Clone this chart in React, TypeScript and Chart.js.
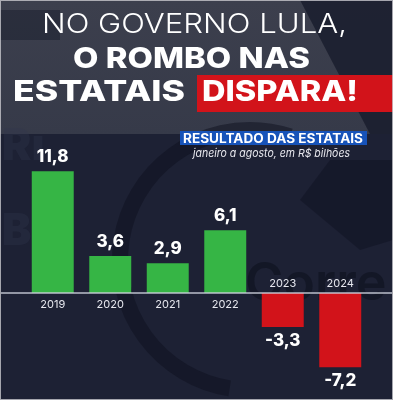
import React, { useEffect, useRef } from "react";
import { Chart, registerables } from "chart.js";

Chart.register(...registerables);

const years = ["2019", "2020", "2021", "2022", "2023", "2024"];
const values = [11.8, 3.6, 2.9, 6.1, -3.3, -7.2];
const valueLabels = ["11,8", "3,6", "2,9", "6,1", "-3,3", "-7,2"];
const titleLine1 = "NO GOVERNO LULA,";
const titleLine2 = "O ROMBO NAS";
const titleLine3a = "ESTATAIS";
const titleLine3b = "DISPARA!";
const subtitle = "RESULTADO DAS ESTATAIS";
const subtitle2 = "janeiro a agosto, em R$ bilhões";

const GREEN = "#36b545";
const RED = "#d2131a";
const FONT = "Inter, 'Open Sans', 'DejaVu Sans', sans-serif";

function fitText(ctx: CanvasRenderingContext2D, text: string, x: number, y: number, width: number) {
  const w = ctx.measureText(text).width;
  ctx.save();
  ctx.translate(x, y);
  ctx.scale(width / w, 1);
  ctx.fillText(text, 0, 0);
  ctx.restore();
}

const decorPlugin = {
  id: "decor",
  beforeDraw(chart: any) {
    const ctx: CanvasRenderingContext2D = chart.ctx;
    const W = chart.width;
    const H = chart.height;
    ctx.save();
    ctx.fillStyle = "#1d2134";
    ctx.fillRect(0, 0, W, H);
    const g = ctx.createLinearGradient(0, 0, 0, 135);
    g.addColorStop(0, "#3c3f4d");
    g.addColorStop(1, "#363a49");
    ctx.fillStyle = g;
    ctx.fillRect(0, 0, W, 134);
    ctx.fillStyle = "rgba(22,26,42,0.75)";
    ctx.beginPath();
    ctx.moveTo(300, 0);
    ctx.lineTo(393, 0);
    ctx.lineTo(393, 134);
    ctx.lineTo(370, 134);
    ctx.closePath();
    ctx.fill();
    ctx.fillStyle = "rgba(22,26,42,0.45)";
    ctx.fillRect(0, 10, 60, 30);
    // faint watermark shapes
    ctx.strokeStyle = "rgba(14,16,30,0.5)";
    ctx.lineWidth = 16;
    ctx.beginPath();
    ctx.arc(250, 260, 130, Math.PI * 0.55, Math.PI * 1.6);
    ctx.stroke();
    ctx.fillStyle = "rgba(14,16,30,0.45)";
    ctx.beginPath();
    ctx.moveTo(330, 160);
    ctx.lineTo(393, 160);
    ctx.lineTo(393, 240);
    ctx.lineTo(360, 250);
    ctx.lineTo(300, 200);
    ctx.closePath();
    ctx.fill();
    ctx.fillStyle = "rgba(50,55,78,0.35)";
    ctx.font = `900 44px ${FONT}`;
    ctx.textBaseline = "alphabetic";
    ctx.textAlign = "left";
    ctx.fillText("Rı", 2, 160);
    ctx.fillText("B", 2, 245);
    ctx.fillStyle = "rgba(14,16,30,0.6)";
    ctx.font = `600 52px ${FONT}`;
    ctx.fillText("Corre", 245, 300);

    // title
    ctx.fillStyle = "#ffffff";
    ctx.textBaseline = "alphabetic";
    ctx.font = `300 27px ${FONT}`;
    fitText(ctx, titleLine1, 42, 32.5, 305);
    ctx.font = `800 29px ${FONT}`;
    fitText(ctx, titleLine2, 73, 67.5, 237);
    ctx.fillStyle = RED;
    ctx.fillRect(197, 75, 196, 37);
    ctx.fillStyle = "#ffffff";
    ctx.font = `800 29px ${FONT}`;
    fitText(ctx, titleLine3a, 13, 100.5, 172);
    fitText(ctx, titleLine3b, 202, 100.5, 156);

    // subtitle band
    ctx.fillStyle = "#1753b9";
    ctx.fillRect(180, 131, 187, 14);
    ctx.fillStyle = "#ffffff";
    ctx.font = `700 13px ${FONT}`;
    fitText(ctx, subtitle, 183, 143, 180);
    ctx.font = `italic 400 11px ${FONT}`;
    ctx.fillStyle = "#e8e8ee";
    fitText(ctx, subtitle2, 193, 157, 157);

    ctx.strokeStyle = "rgba(200,200,205,0.8)";
    ctx.lineWidth = 1;
    ctx.strokeRect(0.5, 0.5, W - 1, H - 1);
    ctx.restore();
  },
  afterDatasetsDraw(chart: any) {
    const ctx: CanvasRenderingContext2D = chart.ctx;
    const y0 = chart.scales.y.getPixelForValue(0);
    ctx.save();
    ctx.strokeStyle = "rgba(205,208,220,0.9)";
    ctx.lineWidth = 1.5;
    ctx.beginPath();
    ctx.moveTo(1, y0);
    ctx.lineTo(chart.width - 1, y0);
    ctx.stroke();

    const meta = chart.getDatasetMeta(0);
    ctx.textAlign = "center";
    ctx.textBaseline = "middle";
    meta.data.forEach((bar: any, i: number) => {
      const v = values[i];
      const x = bar.x;
      ctx.fillStyle = "#e6e7ee";
      ctx.font = `400 11px ${FONT}`;
      ctx.fillText(years[i], x, v >= 0 ? y0 + 12 : y0 - 9);
      ctx.fillStyle = "#ffffff";
      ctx.font = `800 17px ${FONT}`;
      ctx.fillText(valueLabels[i], x, v >= 0 ? bar.y - 14 : bar.y + 14);
    });
    ctx.restore();
  },
};

export default function App() {
  const ref = useRef<HTMLCanvasElement>(null);
  useEffect(() => {
    if (!ref.current) return;
    const chart = new Chart(ref.current, {
      type: "bar",
      data: {
        labels: years,
        datasets: [
          {
            data: values,
            backgroundColor: values.map((v) => (v >= 0 ? GREEN : RED)),
            borderWidth: 0,
            categoryPercentage: 1,
            barPercentage: 0.73,
          },
        ],
      },
      options: {
        responsive: false,
        animation: false,
        layout: { padding: { top: 160, bottom: 9, left: 24, right: 24 } },
        plugins: { legend: { display: false }, tooltip: { enabled: false } },
        scales: {
          x: { display: false },
          y: { display: false, min: -9.5, max: 12.9 },
        },
      },
      plugins: [decorPlugin],
    });
    return () => chart.destroy();
  }, []);
  return (
    <div style={{ position: "absolute", left: 0, top: 0, width: 393, height: 400 }}>
      <canvas ref={ref} width={393} height={400} style={{ display: "block" }} />
    </div>
  );
}
